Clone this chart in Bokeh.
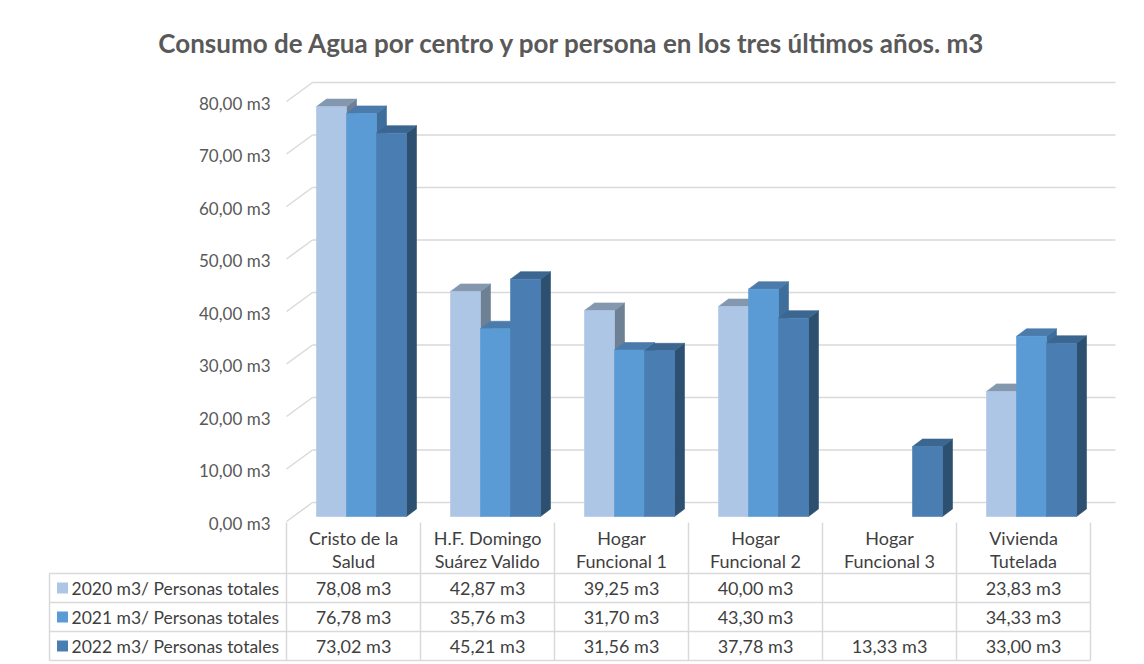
from bokeh.plotting import figure
from bokeh.models import Range1d, ColumnDataSource
from bokeh.core.properties import value
from bokeh.embed import file_html
from bokeh.resources import INLINE

# ---------------- data ----------------
TITLE = "Consumo de Agua por centro y por persona en los tres últimos años. m3"
CATEGORIES = ["Cristo de la\nSalud", "H.F. Domingo\nSuárez Valido", "Hogar\nFuncional 1",
              "Hogar\nFuncional 2", "Hogar\nFuncional 3", "Vivienda\nTutelada"]
SERIES = ["2020 m3/ Personas totales", "2021 m3/ Personas totales", "2022 m3/ Personas totales"]
V2020 = [78.08, 42.87, 39.25, 40.00, None, 23.83]
V2021 = [76.78, 35.76, 31.70, 43.30, None, 34.33]
V2022 = [73.02, 45.21, 31.56, 37.78, 13.33, 33.00]
Y_TICKS = [0, 10, 20, 30, 40, 50, 60, 70, 80]
UNIT = " m3"

# ---------------- style ----------------
FRONT_COL = ["#ADC6E5", "#5B9BD5", "#4A7EB3"]
TOP_COL = ["#8397AE", "#4A7BAB", "#3B6690"]
SIDE_COL = ["#6E8094", "#3E6E9B", "#2E5070"]
GRID = "#D9D9D9"
TXT = "#3F3F3F"
AX_TXT = "#595959"
FONT = "Lato"

W, H = 1144, 664
TOP_BORDER = 70
PX_CAT = 134.0     # pixels per category column
PX_VAL = 5.25      # pixels per value unit


def dx(px):
    return px / PX_CAT


def dy(px):
    return px / PX_VAL


def fmt(v):
    return "" if v is None else f"{v:.2f}".replace(".", ",") + UNIT


X0 = dx(-286)
Y0 = dy(-148)
p = figure(width=W, height=H,
           x_range=Range1d(X0, X0 + dx(W)),
           y_range=Range1d(Y0, Y0 + dy(H - TOP_BORDER)),
           output_backend="svg", toolbar_location=None,
           min_border_left=0, min_border_right=0, min_border_bottom=0,
           min_border_top=TOP_BORDER)
p.axis.visible = False
p.grid.visible = False
p.outline_line_color = None
p.background_fill_color = "white"
p.border_fill_color = "white"

p.title.text = TITLE
p.title.align = "center"
p.title.text_font = FONT
p.title.text_font_size = "26px"
p.title.text_font_style = "bold"
p.title.text_color = AX_TXT
p.title.standoff = 24

# ------------- 3D box: back wall gridlines & side diagonals -------------
BACK_X, BACK_Y = dx(26), dy(14)
FRONT_Y = dy(-5)
GRID_END = dx(829)
p.segment(x0=[BACK_X] * len(Y_TICKS), y0=[t + BACK_Y for t in Y_TICKS],
          x1=[GRID_END] * len(Y_TICKS), y1=[t + BACK_Y for t in Y_TICKS],
          line_color=GRID, line_width=1.5)
p.segment(x0=[0] * len(Y_TICKS), y0=[t + FRONT_Y for t in Y_TICKS],
          x1=[BACK_X] * len(Y_TICKS), y1=[t + BACK_Y for t in Y_TICKS],
          line_color=GRID, line_width=1.5)
p.text(x=[dx(-16)] * len(Y_TICKS), y=[t + FRONT_Y + dy(-1.5) for t in Y_TICKS],
       text=[fmt(t) for t in Y_TICKS], text_align="right", text_baseline="middle",
       text_font=value(FONT), text_font_size="17px", text_color=AX_TXT)

# ------------- bars (painter's order: left to right) -------------
BAR_W = dx(30)
BAR_OFF = dx(30)
DEP_X, DEP_Y = dx(10), dy(7.5)
xs, ys, cols = [], [], []
for i in range(len(CATEGORIES)):
    for j, vals in enumerate([V2020, V2021, V2022]):
        v = vals[i]
        if v is None:
            continue
        l = i + BAR_OFF + j * BAR_W
        r = l + BAR_W
        # side face
        xs.append([r, r + DEP_X, r + DEP_X, r]); ys.append([0, DEP_Y, v + DEP_Y, v]); cols.append(SIDE_COL[j])
        # top face
        xs.append([l, r, r + DEP_X, l + DEP_X]); ys.append([v, v, v + DEP_Y, v + DEP_Y]); cols.append(TOP_COL[j])
        # front face
        xs.append([l, r, r, l]); ys.append([0, 0, v, v]); cols.append(FRONT_COL[j])
src = ColumnDataSource(dict(xs=xs, ys=ys, c=cols))
p.patches("xs", "ys", source=src, fill_color="c", line_color="c", line_width=0.6)

# ------------- data table -------------
N = len(CATEGORIES)
TAB_TOP = dy(-6)
ROWS = [dy(-57), dy(-86), dy(-115), dy(-144)]
LEFT = dx(-237)
p.segment(x0=list(range(N + 1)), y0=[TAB_TOP] * (N + 1), x1=list(range(N + 1)), y1=[ROWS[-1]] * (N + 1),
          line_color=GRID, line_width=1.5)
p.segment(x0=[LEFT], y0=[ROWS[0]], x1=[LEFT], y1=[ROWS[-1]], line_color=GRID, line_width=1.5)
p.segment(x0=[LEFT] * len(ROWS), y0=ROWS, x1=[N] * len(ROWS), y1=ROWS, line_color=GRID, line_width=1.5)

l1 = [c.split("\n")[0] for c in CATEGORIES]
l2 = [c.split("\n")[1] for c in CATEGORIES]
cx = [i + 0.5 for i in range(N)]
p.text(x=cx, y=[dy(-21)] * N, text=l1, text_align="center", text_baseline="middle",
       text_font=value(FONT), text_font_size="18px", text_color=TXT)
p.text(x=cx, y=[dy(-44)] * N, text=l2, text_align="center", text_baseline="middle",
       text_font=value(FONT), text_font_size="18px", text_color=TXT)

for j, vals in enumerate([V2020, V2021, V2022]):
    yc = (ROWS[j] + ROWS[j + 1]) / 2
    p.scatter(x=[dx(-224)], y=[yc], marker="square", size=11, color=FRONT_COL[j], line_color=None)
    p.text(x=[dx(-215)], y=[yc], text=[SERIES[j]], text_align="left", text_baseline="middle",
           text_font=value(FONT), text_font_size="17.5px", text_color=TXT)
    p.text(x=cx, y=[yc] * N, text=[fmt(v) for v in vals], text_align="center", text_baseline="middle",
           text_font=value(FONT), text_font_size="18px", text_color=TXT)

open("out.html", "w").write(file_html(p, INLINE))
